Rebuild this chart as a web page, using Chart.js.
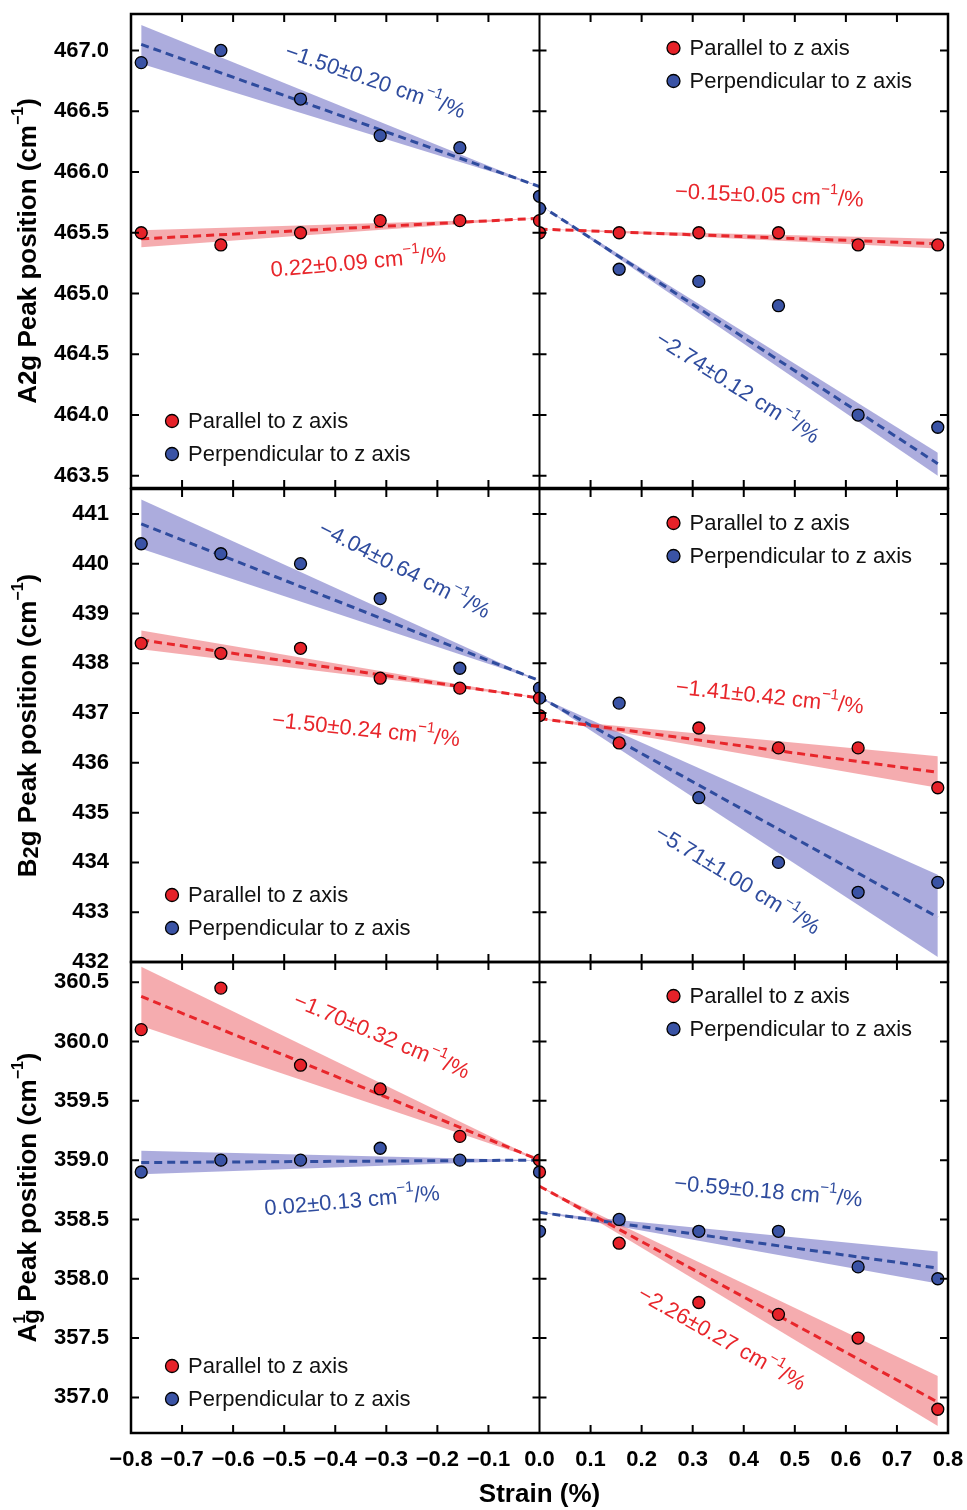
<!DOCTYPE html>
<html>
<head>
<meta charset="utf-8">
<script src="https://cdn.jsdelivr.net/npm/chart.js@4.4.1/dist/chart.umd.min.js"></script>
<style>
  body { margin: 0; background: #fff; }
  #wrap { position: relative; width: 967px; height: 1510px; }
  #wrap canvas { position: absolute; left: 0; }
</style>
</head>
<body>
<div id="wrap">
  <canvas id="rowA" width="967" height="500" style="top:0px"></canvas>
  <canvas id="rowB" width="967" height="500" style="top:476px"></canvas>
  <canvas id="rowC" width="967" height="560" style="top:950px"></canvas>
</div>
<script>
// strain positions of the measurements (%)
const strainLeft = [-0.78, -0.624, -0.468, -0.312, -0.156, 0];
const strainRight = [0, 0.156, 0.312, 0.468, 0.624, 0.78];
const fitXLeft = [-0.78, 0];
const fitXRight = [0, 0.78];
const strainTicks = [-0.8, -0.7, -0.6, -0.5, -0.4, -0.3, -0.2, -0.1, 0, 0.1, 0.2, 0.3, 0.4, 0.5, 0.6, 0.7, 0.8];
const strainTickLabels = ['−0.8', '−0.7', '−0.6', '−0.5', '−0.4', '−0.3', '−0.2', '−0.1', '0.0', '0.1', '0.2', '0.3', '0.4', '0.5', '0.6', '0.7', '0.8'];
const seriesNames = ['Parallel to z axis', 'Perpendicular to z axis'];

// A2g
const a2gRange = [463.4, 467.3];
const a2gTicks = [463.5, 464.0, 464.5, 465.0, 465.5, 466.0, 466.5, 467.0];
const a2gParLeft = [465.5, 465.4, 465.5, 465.6, 465.6, 465.6];
const a2gPerpLeft = [466.9, 467.0, 466.6, 466.3, 466.2, 465.8];
const a2gParRight = [465.5, 465.5, 465.5, 465.5, 465.4, 465.4];
const a2gPerpRight = [465.7, 465.2, 465.1, 464.9, 464.0, 463.9];
const a2gFitParLeft = [465.45, 465.62], a2gBandParLeftHi = [465.52, 465.62], a2gBandParLeftLo = [465.38, 465.62];
const a2gFitPerpLeft = [467.05, 465.88], a2gBandPerpLeftHi = [467.21, 465.88], a2gBandPerpLeftLo = [466.89, 465.88];
const a2gFitParRight = [465.53, 465.41], a2gBandParRightHi = [465.53, 465.45], a2gBandParRightLo = [465.53, 465.37];
const a2gFitPerpRight = [465.73, 463.60], a2gBandPerpRightHi = [465.73, 463.69], a2gBandPerpRightLo = [465.73, 463.50];
const a2gSlopes = ['0.22±0.09', '−1.50±0.20', '−0.15±0.05', '−2.74±0.12'];

// B2g
const b2gRange = [432.0, 441.5];
const b2gTicks = [432, 433, 434, 435, 436, 437, 438, 439, 440, 441];
const b2gParLeft = [438.4, 438.2, 438.3, 437.7, 437.5, 437.3];
const b2gPerpLeft = [440.4, 440.2, 440.0, 439.3, 437.9, 437.5];
const b2gParRight = [436.95, 436.4, 436.7, 436.3, 436.3, 435.5];
const b2gPerpRight = [437.3, 437.2, 435.3, 434.0, 433.4, 433.6];
const b2gFitParLeft = [438.47, 437.30], b2gBandParLeftHi = [438.66, 437.30], b2gBandParLeftLo = [438.28, 437.30];
const b2gFitPerpLeft = [440.80, 437.65], b2gBandPerpLeftHi = [441.29, 437.65], b2gBandPerpLeftLo = [440.30, 437.65];
const b2gFitParRight = [436.89, 435.81], b2gBandParRightHi = [436.89, 436.13], b2gBandParRightLo = [436.89, 435.50];
const b2gFitPerpRight = [437.32, 432.90], b2gBandPerpRightHi = [437.32, 433.75], b2gBandPerpRightLo = [437.32, 432.10];
const b2gSlopes = ['−1.50±0.24', '−4.04±0.64', '−1.41±0.42', '−5.71±1.00'];

// A1g
const a1gRange = [356.7, 360.67];
const a1gTicks = [357.0, 357.5, 358.0, 358.5, 359.0, 359.5, 360.0, 360.5];
const a1gParLeft = [360.1, 360.45, 359.8, 359.6, 359.2, 359.0];
const a1gPerpLeft = [358.9, 359.0, 359.0, 359.1, 359.0, 358.9];
const a1gParRight = [358.9, 358.3, 357.8, 357.7, 357.5, 356.9];
const a1gPerpRight = [358.4, 358.5, 358.4, 358.4, 358.1, 358.0];
const a1gFitParLeft = [360.38, 359.00], a1gBandParLeftHi = [360.63, 359.00], a1gBandParLeftLo = [360.13, 359.00];
const a1gFitPerpLeft = [358.98, 359.00], a1gBandPerpLeftHi = [359.08, 359.00], a1gBandPerpLeftLo = [358.88, 359.00];
const a1gFitParRight = [358.78, 356.96], a1gBandParRightHi = [358.78, 357.18], a1gBandParRightLo = [358.78, 356.76];
const a1gFitPerpRight = [358.56, 358.09], a1gBandPerpRightHi = [358.56, 358.23], a1gBandPerpRightLo = [358.56, 357.96];
const a1gSlopes = ['−1.70±0.32', '0.02±0.13', '−2.26±0.27', '−0.59±0.18'];

// layout / style
const PLOT_LEFT = 131, PLOT_RIGHT = 948;
const HALF = (PLOT_RIGHT - PLOT_LEFT) / 2;
const SANS = "'Liberation Sans', Arial, sans-serif";
const RED = '#e8262b', BLUE = '#2f4c9e';
const RED_PT = '#e62229', BLUE_PT = '#3a53a5';
const RED_BAND = 'rgba(236,90,95,0.5)', BLUE_BAND = 'rgba(95,95,190,0.52)';
const clipLeft = {left: false, right: -HALF, top: 0, bottom: 0};
const clipRight = {left: -HALF, right: false, top: 0, bottom: 0};

function pts(xs, ys) { return xs.map((x, i) => ({x: x, y: ys[i]})); }

function sideSets(xs, fitXs, vals, fit, hi, lo, ptColor, lineColor, bandColor, clip) {
  return [
    {data: pts(fitXs, hi), borderWidth: 0, borderColor: 'transparent', pointRadius: 0, fill: false, order: 3},
    {data: pts(fitXs, lo), borderWidth: 0, borderColor: 'transparent', pointRadius: 0, fill: '-1', backgroundColor: bandColor, order: 3},
    {data: pts(fitXs, fit), borderColor: lineColor, borderWidth: 3, borderDash: [8, 5], pointRadius: 0, fill: false, order: 2},
    {data: pts(xs, vals), showLine: false, pointRadius: 6, pointHoverRadius: 6, pointBackgroundColor: ptColor,
     pointBorderColor: '#000', pointBorderWidth: 1.3, order: 1, clip: clip}
  ];
}

function drawPieces(ctx, pieces, cx, cy, angle) {
  ctx.save();
  ctx.translate(cx, cy);
  ctx.rotate(angle);
  let total = 0;
  pieces.forEach(p => { ctx.font = p.font; p.w = ctx.measureText(p.t).width; if (p.adv !== 0) total += p.w; });
  let x = -total / 2;
  ctx.textAlign = 'left';
  ctx.textBaseline = 'middle';
  pieces.forEach(p => {
    ctx.font = p.font;
    ctx.fillStyle = p.color || '#000';
    ctx.fillText(p.t, x, p.dy || 0);
    if (p.adv !== 0) x += p.w;
  });
  ctx.restore();
}

function slopePieces(label, color) {
  return [
    {t: label + ' cm', font: '22px ' + SANS, color: color},
    {t: '−1', font: '15px ' + SANS, color: color, dy: -9},
    {t: '/%', font: '22px ' + SANS, color: color}
  ];
}

function noPad(s) {
  s.paddingTop = 0; s.paddingBottom = 0; s.paddingLeft = 0; s.paddingRight = 0;
}

function decor(row) {
  return {
    id: 'decor',
    afterDraw(chart) {
      const ctx = chart.ctx, a = chart.chartArea;
      const xs = chart.scales.x, ys = chart.scales.y;
      const cx = xs.getPixelForValue(0);
      ctx.save();
      ctx.strokeStyle = '#000';
      // frame and middle divider
      ctx.lineWidth = 2.5;
      ctx.strokeRect(a.left, a.top, a.right - a.left, a.bottom - a.top);
      ctx.lineWidth = 2;
      ctx.beginPath();
      ctx.moveTo(cx, a.top); ctx.lineTo(cx, a.bottom);
      // inward ticks
      row.ticks.forEach(v => {
        const y = ys.getPixelForValue(v);
        ctx.moveTo(a.left, y); ctx.lineTo(a.left + 8, y);
        ctx.moveTo(a.right - 8, y); ctx.lineTo(a.right, y);
        ctx.moveTo(cx - 7, y); ctx.lineTo(cx + 7, y);
      });
      strainTicks.forEach(v => {
        if (v <= -0.8 || v >= 0.8 || v === 0) return;
        const x = xs.getPixelForValue(v);
        ctx.moveTo(x, a.top); ctx.lineTo(x, a.top + 8);
        ctx.moveTo(x, a.bottom - 8); ctx.lineTo(x, a.bottom);
      });
      ctx.stroke();
      ctx.restore();

      // y axis title
      drawPieces(ctx, row.title, 29, (a.top + a.bottom) / 2, -Math.PI / 2);

      // slope annotations
      row.notes.forEach(n => {
        drawPieces(ctx, slopePieces(n.label, n.color), xs.getPixelForValue(n.x), ys.getPixelForValue(n.y), n.angle * Math.PI / 180);
      });

      // legends: bottom-left of left half, top-right of right half
      const spots = [{x: a.left + 41, y: a.bottom - 67}, {x: cx + 134, y: a.top + 34}];
      ctx.save();
      ctx.font = '22px ' + SANS;
      ctx.textBaseline = 'middle';
      ctx.textAlign = 'left';
      spots.forEach(s => {
        [RED_PT, BLUE_PT].forEach((c, i) => {
          const y = s.y + i * 33;
          ctx.beginPath();
          ctx.arc(s.x, y, 6.5, 0, Math.PI * 2);
          ctx.fillStyle = c;
          ctx.fill();
          ctx.lineWidth = 1.3;
          ctx.strokeStyle = '#000';
          ctx.stroke();
          ctx.fillStyle = '#111';
          ctx.fillText(seriesNames[i], s.x + 16, y + 1);
        });
      });
      ctx.restore();
    }
  };
}

function makeRow(row) {
  const datasets = [].concat(
    sideSets(strainLeft, fitXLeft, row.parL, row.fitParL, row.hiParL, row.loParL, RED_PT, RED, RED_BAND, clipLeft),
    sideSets(strainLeft, fitXLeft, row.perpL, row.fitPerpL, row.hiPerpL, row.loPerpL, BLUE_PT, BLUE, BLUE_BAND, clipLeft),
    sideSets(strainRight, fitXRight, row.parR, row.fitParR, row.hiParR, row.loParR, RED_PT, RED, RED_BAND, clipRight),
    sideSets(strainRight, fitXRight, row.perpR, row.fitPerpR, row.hiPerpR, row.loPerpR, BLUE_PT, BLUE, BLUE_BAND, clipRight)
  );
  new Chart(document.getElementById(row.id), {
    type: 'line',
    data: {datasets: datasets},
    options: {
      responsive: false,
      animation: false,
      events: [],
      layout: {padding: row.padding},
      plugins: {legend: {display: false}, tooltip: {enabled: false}},
      scales: {
        x: {
          type: 'linear', min: -0.8, max: 0.8,
          display: row.showX,
          grid: {display: false, drawTicks: false},
          border: {display: false},
          afterBuildTicks: s => { s.ticks = strainTicks.map(v => ({value: v})); },
          afterFit: s => { noPad(s); s.height = row.showX ? 77 : 0; },
          ticks: {
            autoSkip: false, maxRotation: 0, padding: 14, color: '#000',
            font: {family: SANS, size: 22, weight: 'bold'},
            callback: (v, i) => strainTickLabels[i]
          },
          title: {
            display: row.showX, text: 'Strain (%)', color: '#000',
            font: {family: SANS, size: 26, weight: 'bold', lineHeight: 1},
            padding: {top: 0, bottom: 2}
          }
        },
        y: {
          type: 'linear', min: row.range[0], max: row.range[1],
          grid: {display: false, drawTicks: false},
          border: {display: false},
          afterBuildTicks: s => { s.ticks = row.ticks.map(v => ({value: v})); },
          afterFit: s => { noPad(s); s.width = PLOT_LEFT; },
          ticks: {
            autoSkip: false, padding: 22, color: '#000',
            font: {family: SANS, size: 22, weight: 'bold'},
            callback: v => v.toFixed(row.decimals)
          }
        }
      }
    },
    plugins: [decor(row)]
  });
}

const TB = 'bold 26px ' + SANS;
const TSUP = 'bold 16px ' + SANS;
const tail = [
  {t: ' Peak position (cm', font: TB},
  {t: '−1', font: TSUP, dy: -10},
  {t: ')', font: TB}
];

makeRow({
  id: 'rowA', range: a2gRange, ticks: a2gTicks, decimals: 1, showX: false,
  padding: {left: 0, right: 19, top: 14, bottom: 12},
  parL: a2gParLeft, perpL: a2gPerpLeft, parR: a2gParRight, perpR: a2gPerpRight,
  fitParL: a2gFitParLeft, hiParL: a2gBandParLeftHi, loParL: a2gBandParLeftLo,
  fitPerpL: a2gFitPerpLeft, hiPerpL: a2gBandPerpLeftHi, loPerpL: a2gBandPerpLeftLo,
  fitParR: a2gFitParRight, hiParR: a2gBandParRightHi, loParR: a2gBandParRightLo,
  fitPerpR: a2gFitPerpRight, hiPerpR: a2gBandPerpRightHi, loPerpR: a2gBandPerpRightLo,
  title: [{t: 'A2g', font: TB}].concat(tail),
  notes: [
    {label: a2gSlopes[0], color: RED, x: -0.355, y: 465.25, angle: -5},
    {label: a2gSlopes[1], color: BLUE, x: -0.322, y: 466.74, angle: 19},
    {label: a2gSlopes[2], color: RED, x: 0.450, y: 465.80, angle: 2.5},
    {label: a2gSlopes[3], color: BLUE, x: 0.387, y: 464.22, angle: 32.5}
  ]
});

makeRow({
  id: 'rowB', range: b2gRange, ticks: b2gTicks, decimals: 0, showX: false,
  padding: {left: 0, right: 19, top: 13, bottom: 14},
  parL: b2gParLeft, perpL: b2gPerpLeft, parR: b2gParRight, perpR: b2gPerpRight,
  fitParL: b2gFitParLeft, hiParL: b2gBandParLeftHi, loParL: b2gBandParLeftLo,
  fitPerpL: b2gFitPerpLeft, hiPerpL: b2gBandPerpLeftHi, loPerpL: b2gBandPerpLeftLo,
  fitParR: b2gFitParRight, hiParR: b2gBandParRightHi, loParR: b2gBandParRightLo,
  fitPerpR: b2gFitPerpRight, hiPerpR: b2gBandPerpRightHi, loPerpR: b2gBandPerpRightLo,
  title: [{t: 'B', font: TB}, {t: '2', font: 'bold 22px ' + SANS, dy: 3}, {t: 'g', font: TB}].concat(tail),
  notes: [
    {label: b2gSlopes[0], color: RED, x: -0.340, y: 436.65, angle: 6},
    {label: b2gSlopes[1], color: BLUE, x: -0.265, y: 439.86, angle: 27},
    {label: b2gSlopes[2], color: RED, x: 0.451, y: 437.31, angle: 6},
    {label: b2gSlopes[3], color: BLUE, x: 0.387, y: 433.63, angle: 31.5}
  ]
});

makeRow({
  id: 'rowC', range: a1gRange, ticks: a1gTicks, decimals: 1, showX: true,
  padding: {left: 0, right: 19, top: 12, bottom: 0},
  parL: a1gParLeft, perpL: a1gPerpLeft, parR: a1gParRight, perpR: a1gPerpRight,
  fitParL: a1gFitParLeft, hiParL: a1gBandParLeftHi, loParL: a1gBandParLeftLo,
  fitPerpL: a1gFitPerpLeft, hiPerpL: a1gBandPerpLeftHi, loPerpL: a1gBandPerpLeftLo,
  fitParR: a1gFitParRight, hiParR: a1gBandParRightHi, loParR: a1gBandParRightLo,
  fitPerpR: a1gFitPerpRight, hiPerpR: a1gBandPerpRightHi, loPerpR: a1gBandPerpRightLo,
  title: [{t: 'A', font: TB}, {t: '1', font: 'bold 17px ' + SANS, dy: -9, adv: 0}, {t: 'g', font: 'bold 24px ' + SANS, dy: 3}].concat(tail),
  notes: [
    {label: a1gSlopes[0], color: RED, x: -0.310, y: 360.04, angle: 23},
    {label: a1gSlopes[1], color: BLUE, x: -0.367, y: 358.65, angle: -5},
    {label: a1gSlopes[2], color: RED, x: 0.356, y: 357.49, angle: 29.5},
    {label: a1gSlopes[3], color: BLUE, x: 0.448, y: 358.73, angle: 5}
  ]
});
</script>
</body>
</html>
